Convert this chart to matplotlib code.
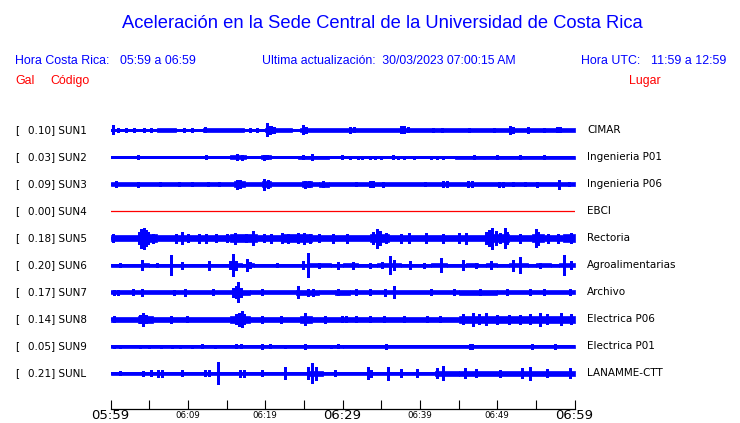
import numpy as np
import matplotlib.pyplot as plt

W, H = 740, 423
BLUE = "#0000ff"
RED = "#ff0000"

codes = ["SUN1", "SUN2", "SUN3", "SUN4", "SUN5", "SUN6", "SUN7", "SUN8", "SUN9", "SUNL"]
gal = [0.10, 0.03, 0.09, 0.00, 0.18, 0.20, 0.17, 0.14, 0.05, 0.21]
places = ["CIMAR", "Ingenieria P01", "Ingenieria P06", "EBCI", "Rectoria",
          "Agroalimentarias", "Archivo", "Electrica P06", "Electrica P01", "LANAMME-CTT"]

tick_minutes = [0, 10, 20, 30, 40, 50, 60]
tick_labels = ["05:59", "06:09", "06:19", "06:29", "06:39", "06:49", "06:59"]
big_labels = ["05:59", "06:29", "06:59"]

# amplitudes, in pixels of trace height
# band: (start minute, end minute, half width), peaks: (minute, half height)
sun1_band = [(0, 6, 1.2), (6, 8.5, 1.8), (8.5, 12, 1.2), (12, 17.3, 1.8), (17.3, 20, 1.2),
             (20, 23.5, 1.6), (23.5, 24.5, 1.2), (24.5, 60, 1.9)]
sun1_peaks = [(0.3, 4.5), (1.0, 1.7), (2.0, 2.0), (3.0, 1.7), (4.3, 1.8), (5.2, 1.7), (9.5, 2.0),
              (10.6, 1.7), (12.2, 2.5), (18.0, 1.7), (19.0, 1.7), (20.3, 6.5), (20.6, 4.0), (20.8, 3.5),
              (21.2, 3.0), (24.9, 4.5), (25.3, 3.0), (31.0, 3.0), (31.5, 2.5), (37.6, 3.5), (38.0, 3.5),
              (38.5, 2.5), (41.7, 2.0), (42.9, 1.8), (46.3, 2.2), (49.6, 2.3), (51.7, 4.0), (52.0, 3.0),
              (54.0, 2.8), (56.1, 2.0), (57.7, 2.5), (58.1, 2.5)]

sun2_band = [(0, 15.5, 0.5), (15.5, 17.5, 1.8), (17.5, 19.5, 0.5), (19.5, 20.8, 1.7), (20.8, 24.2, 0.5),
             (24.2, 28.3, 1.5), (28.3, 44.5, 0.6), (44.5, 60, 1.5)]
sun2_peaks = [(0.8, 1.2), (3.6, 2.0), (5.0, 1.2), (6.2, 1.0), (8.0, 1.2), (10.0, 1.2), (12.3, 1.6),
              (13.0, 1.4), (16.3, 2.8), (17.0, 2.5), (19.9, 2.5), (20.3, 2.2), (24.9, 2.0), (26.0, 2.6),
              (29.9, 1.8), (31.0, 1.5), (32.0, 1.5), (32.5, 1.5), (33.5, 1.5), (34.2, 1.5), (35.0, 1.5),
              (36.5, 1.6), (37.2, 1.5), (38.0, 1.5), (39.2, 1.5), (40.0, 1.4), (41.5, 1.5), (42.2, 1.5),
              (43.0, 1.5), (47.0, 1.6), (50.0, 1.6), (53.0, 1.6), (56.0, 1.6)]

sun3_band = [(0, 16, 1.9), (16, 17.4, 3.0), (17.4, 19.6, 1.9), (19.6, 20.7, 3.0), (20.7, 24.7, 1.9),
             (24.7, 26, 2.6), (26, 26.9, 1.9), (26.9, 28.2, 2.5), (28.2, 60, 1.9)]
sun3_peaks = [(0.7, 3.0), (3.6, 2.5), (6.4, 2.2), (8.8, 2.3), (10.5, 2.2), (12.6, 2.2), (14.0, 2.2),
              (16.4, 4.5), (16.8, 4.0), (19.8, 5.5), (20.4, 4.0), (25.2, 3.5), (25.7, 3.2), (27.5, 2.6),
              (31.8, 2.3), (33.6, 3.0), (34.0, 3.0), (35.2, 2.5), (40.7, 2.3), (43.0, 3.0), (43.5, 2.8),
              (46.2, 3.0), (46.8, 2.8), (50.2, 2.5), (50.8, 2.5), (52.0, 2.3), (53.6, 2.3), (55.2, 2.5),
              (58.0, 4.5), (59.3, 2.3)]

sun4_band = []
sun4_peaks = []

sun5_band = [(0, 3.5, 3.2), (3.5, 6, 4.3), (6, 15.5, 3.2), (15.5, 19, 3.7), (19, 22, 3.2), (22, 26, 3.7),
             (26, 33.5, 3.2), (33.5, 36, 4.0), (36, 48.5, 3.2), (48.5, 51.5, 4.0), (51.5, 54.5, 3.2),
             (54.5, 56, 3.7), (56, 58.5, 3.2), (58.5, 60, 3.8)]
sun5_peaks = [(0.3, 4.0), (3.7, 6.0), (4.0, 9.5), (4.3, 10.5), (4.6, 8.0), (4.8, 6.0), (5.5, 4.5),
              (8.5, 4.5), (9.3, 6.0), (10.0, 4.0), (11.4, 4.5), (12.3, 4.5), (13.6, 4.0), (15.0, 4.0),
              (16.1, 5.5), (17.5, 4.0), (18.4, 7.0), (19.8, 4.0), (20.8, 4.5), (22.2, 5.0), (23.0, 4.5),
              (24.2, 5.0), (25.0, 5.5), (25.8, 4.5), (27.0, 4.0), (28.8, 4.5), (30.6, 4.5), (33.9, 6.0),
              (34.4, 9.5), (34.8, 7.0), (35.6, 5.0), (37.6, 4.5), (38.6, 5.0), (40.8, 5.0), (43.0, 4.5),
              (45.0, 5.0), (46.0, 5.5), (48.6, 6.0), (49.0, 8.0), (49.3, 10.5), (49.8, 7.0), (50.4, 5.0),
              (51.0, 10.0), (51.3, 6.0), (53.0, 4.5), (55.0, 9.0), (55.3, 6.5), (56.6, 4.5), (57.9, 4.5),
              (59.6, 5.0)]

sun6_band = [(0, 4, 1.4), (4, 5, 2.1), (5, 15.3, 1.4), (15.3, 17, 2.1), (17, 17.5, 1.4), (17.5, 18.5, 2.1),
             (18.5, 25.5, 1.4), (25.5, 28.5, 2.0), (28.5, 30, 1.4), (30, 32, 2.0), (32, 34.5, 1.4),
             (34.5, 37.5, 2.0), (37.5, 41.5, 1.4), (41.5, 43.5, 2.0), (43.5, 46, 1.4), (46, 47.5, 2.0),
             (47.5, 48.5, 1.4), (48.5, 50, 2.0), (50, 51.5, 1.4), (51.5, 54, 2.0), (54, 55, 1.4),
             (55, 57, 2.0), (57, 58, 1.4), (58, 60, 2.0)]
sun6_peaks = [(1.2, 2.0), (4.1, 5.0), (6.0, 2.2), (7.8, 10.0), (9.2, 3.5), (12.8, 4.5), (15.5, 4.0),
              (15.8, 11.0), (16.2, 4.5), (17.7, 6.0), (18.0, 3.0), (21.5, 2.2), (24.9, 4.0), (25.6, 12.0),
              (27.0, 2.5), (29.4, 3.5), (31.4, 3.5), (33.5, 2.3), (35.1, 3.0), (36.2, 9.0), (36.6, 5.0),
              (38.7, 4.0), (40.5, 2.3), (42.7, 7.0), (45.6, 5.0), (47.3, 2.5), (49.2, 4.0), (52.0, 5.5),
              (53.0, 8.0), (55.5, 2.5), (58.6, 10.0), (59.5, 4.0)]

sun7_band = [(0, 16, 2.1), (16, 18, 2.7), (18, 24, 2.1), (24, 27, 2.7), (27, 29, 2.1), (29, 31, 2.7),
             (31, 45, 2.1), (45, 50, 2.7), (50, 60, 2.1)]
sun7_peaks = [(0.5, 2.5), (1.0, 2.5), (2.9, 3.0), (4.1, 3.5), (8.2, 2.5), (9.6, 3.5), (13.3, 3.0),
              (15.9, 4.5), (16.2, 6.0), (16.5, 10.0), (16.9, 4.5), (19.6, 3.0), (24.2, 6.0), (25.5, 3.5),
              (26.2, 3.5), (29.4, 3.0), (31.8, 3.0), (33.6, 3.0), (35.5, 3.5), (36.7, 6.0), (41.4, 2.8),
              (44.4, 3.0), (47.8, 3.0), (51.3, 3.0), (54.3, 3.0), (56.0, 3.0), (59.4, 3.0)]

sun8_band = [(0, 3.5, 2.7), (3.5, 5.5, 3.4), (5.5, 15.5, 2.7), (15.5, 18, 3.5), (18, 24.5, 2.7),
             (24.5, 26, 3.4), (26, 45, 2.7), (45, 60, 3.4)]
sun8_peaks = [(0.5, 3.0), (3.8, 4.0), (4.2, 6.5), (4.6, 4.0), (7.8, 3.5), (9.9, 3.0), (16.2, 5.0),
              (16.6, 6.5), (17.0, 8.0), (17.3, 5.0), (19.6, 3.5), (22.1, 3.5), (25.2, 6.0), (27.7, 3.5),
              (29.9, 3.0), (30.5, 3.0), (31.8, 3.0), (33.6, 3.0), (35.4, 3.0), (38.0, 3.0), (40.9, 3.0),
              (42.6, 3.0), (45.6, 5.0), (46.9, 6.5), (47.6, 5.0), (48.6, 6.0), (50.0, 4.5), (51.5, 4.5),
              (52.9, 4.5), (54.3, 5.0), (55.6, 6.5), (56.5, 5.0), (58.2, 6.0), (59.5, 5.0)]

sun9_band = [(0, 30, 1.2), (30, 60, 1.5)]
sun9_peaks = [(0.5, 1.5), (1.2, 1.5), (3.8, 1.6), (5.0, 1.5), (6.5, 1.5), (8.0, 1.5), (9.0, 1.5),
              (10.5, 1.5), (11.8, 2.0), (13.5, 1.5), (16.2, 2.0), (16.9, 2.0), (19.6, 2.5), (20.6, 2.0),
              (22.5, 1.6), (25.2, 2.8), (28.5, 1.6), (29.4, 2.0), (35.6, 2.3), (46.5, 2.5), (46.8, 2.5),
              (54.5, 2.5), (57.5, 2.5)]

sunl_band = [(0, 25.5, 1.9), (25.5, 27.5, 2.6), (27.5, 42, 1.9), (42, 45, 2.6), (45, 60, 2.3)]
sunl_peaks = [(1.2, 2.0), (4.2, 2.5), (5.3, 3.0), (6.2, 3.5), (6.7, 3.5), (9.2, 3.0), (12.2, 3.0),
              (12.8, 3.0), (13.9, 11.0), (16.7, 3.5), (17.3, 3.5), (19.6, 3.0), (22.6, 6.0), (25.6, 6.0),
              (26.1, 10.0), (26.6, 6.5), (29.0, 3.0), (33.3, 6.0), (33.7, 3.5), (35.9, 6.5), (37.6, 4.0),
              (39.6, 4.0), (42.2, 5.0), (43.0, 7.0), (45.8, 5.0), (47.3, 4.0), (50.4, 3.5), (53.2, 5.0),
              (54.3, 6.5), (56.5, 4.0), (59.4, 5.0)]

bands = [sun1_band, sun2_band, sun3_band, sun4_band, sun5_band,
         sun6_band, sun7_band, sun8_band, sun9_band, sunl_band]
peaks = [sun1_peaks, sun2_peaks, sun3_peaks, sun4_peaks, sun5_peaks,
         sun6_peaks, sun7_peaks, sun8_peaks, sun9_peaks, sunl_peaks]

TRACE_PX = 27.05  # spacing between traces in pixels


def px_x(x):
    return x / W


def px_y(y):
    return 1 - y / H


fig = plt.figure(figsize=(W / 100, H / 100), dpi=100)

# trace area, bottom spine is the time axis
ax_left, ax_right = 110.5, 574.5
ax_top, ax_bot = 116.0, 409.0
ax = fig.add_axes([px_x(ax_left), px_y(ax_bot), (ax_right - ax_left) / W, (ax_bot - ax_top) / H])
first_c = 130.0
ax.set_xlim(0, 60)
ax.set_ylim((ax_bot - first_c) / TRACE_PX, (ax_top - first_c) / TRACE_PX)

for i in range(len(codes)):
    if gal[i] == 0:
        ax.plot([0, 60], [i, i], color=RED, lw=0.9)
        continue
    ax.plot([0, 60], [i, i], color=BLUE, lw=1.0, antialiased=False)
    for s, e, h in bands[i]:
        ax.fill_between([s, e], i - h / TRACE_PX, i + h / TRACE_PX, color=BLUE, lw=0.5,
                        antialiased=False)
    for m, h in peaks[i]:
        ax.vlines(m, i - h / TRACE_PX, i + h / TRACE_PX, color=BLUE, lw=1.0, antialiased=False)

for side in ["left", "right", "top"]:
    ax.spines[side].set_visible(False)
ax.spines["bottom"].set_linewidth(0.9)
ax.set_yticks([])
ax.set_xticks(np.arange(0, 61, 5))
ax.set_xticklabels([])
ax.tick_params(axis="x", direction="in", length=6.5, width=0.8, color="black")

for m, lab in zip(tick_minutes, tick_labels):
    big = lab in big_labels
    ax.text(m, -6.8 / (ax_bot - ax_top), lab, transform=ax.get_xaxis_transform(),
            ha="center", va="center", fontsize=9.5 if big else 6.2,
            family="DejaVu Sans", color="black")

# station labels
for i in range(len(codes)):
    y = px_y(first_c + i * TRACE_PX)
    fig.text(px_x(15), y, "[", fontsize=7.5, family="DejaVu Sans", va="center")
    fig.text(px_x(27.5), y, "%.2f] %s" % (gal[i], codes[i]), fontsize=7.5,
             family="DejaVu Sans", va="center")
    fig.text(px_x(587), y, places[i], fontsize=7.5, family="DejaVu Sans", va="center")

# header
hf = "Liberation Sans"
fig.text(px_x(382), px_y(23), "Aceleración en la Sede Central de la Universidad de Costa Rica",
         fontsize=13.2, family=hf, color=BLUE, ha="center", va="center")
fig.text(px_x(15), px_y(61), "Hora Costa Rica:", fontsize=8.9, family=hf, color=BLUE, va="center")
fig.text(px_x(120.5), px_y(61), "05:59 a 06:59", fontsize=8.9, family=hf, color=BLUE, va="center")
fig.text(px_x(261.5), px_y(61), "Ultima actualización:  30/03/2023 07:00:15 AM", fontsize=8.8,
         family=hf, color=BLUE, va="center")
fig.text(px_x(581), px_y(61), "Hora UTC:", fontsize=8.9, family=hf, color=BLUE, va="center")
fig.text(px_x(651), px_y(61), "11:59 a 12:59", fontsize=8.9, family=hf, color=BLUE, va="center")
fig.text(px_x(15), px_y(81), "Gal", fontsize=8.9, family=hf, color=RED, va="center")
fig.text(px_x(50), px_y(81), "Código", fontsize=8.9, family=hf, color=RED, va="center")
fig.text(px_x(629), px_y(81), "Lugar", fontsize=8.9, family=hf, color=RED, va="center")

fig.savefig("out.png", dpi=100)
